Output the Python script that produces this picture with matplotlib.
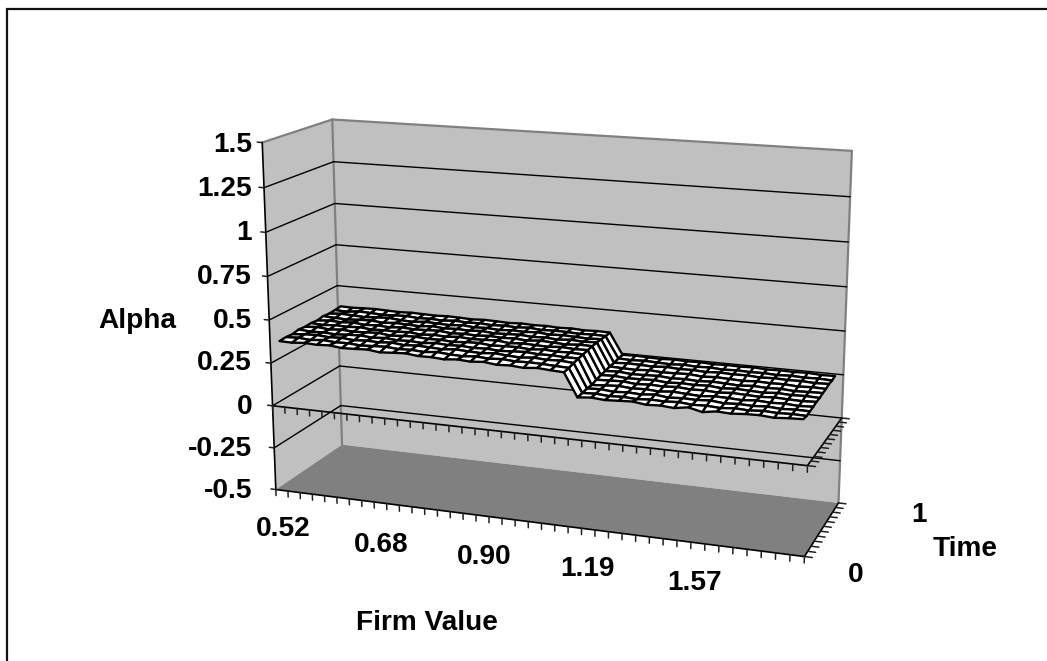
import numpy as np
import matplotlib
matplotlib.use("Agg")
import matplotlib.pyplot as plt
from matplotlib.lines import Line2D
from mpl_toolkits.mplot3d import Axes3D
from mpl_toolkits.mplot3d.art3d import Poly3DCollection, Line3DCollection

# ---- data -----------------------------------------------------------------
firm_tick_labels = ["0.52", "0.68", "0.90", "1.19", "1.57"]
time_tick_labels = ["0", "1"]
alpha_ticks = [-0.5, -0.25, 0, 0.25, 0.5, 0.75, 1, 1.25, 1.5]
alpha_tick_labels = ["-0.5", "-0.25", "0", "0.25", "0.5", "0.75", "1", "1.25", "1.5"]
n_cols = 40
n_rows = 11

alpha = [
 [.372,.370,.376,.372,.376,.368,.370,.374,.365,.370,.374,.366,.367,.362,.369,.364,.370,.361,.365,.359,.366,.361,.357,.225,.232,.226,.230,.234,.224,.228,.222,.234,.216,.228,.224,.230,.232,.226,.232,.235],
 [.375,.378,.372,.379,.373,.375,.369,.373,.376,.370,.373,.368,.375,.369,.366,.372,.367,.372,.366,.369,.367,.363,.360,.227,.231,.225,.229,.224,.230,.227,.232,.225,.228,.223,.230,.226,.232,.228,.231,.229],
 [.372,.378,.381,.375,.379,.372,.377,.374,.380,.372,.377,.374,.370,.377,.373,.370,.377,.371,.367,.374,.369,.372,.366,.230,.234,.227,.232,.228,.235,.226,.231,.229,.234,.226,.231,.228,.233,.228,.232,.231],
 [.380,.374,.377,.372,.377,.380,.374,.379,.373,.376,.371,.379,.374,.377,.372,.375,.370,.374,.378,.372,.374,.370,.371,.228,.233,.238,.232,.235,.230,.237,.232,.228,.235,.233,.229,.236,.231,.234,.229,.233],
 [.376,.382,.374,.380,.375,.378,.382,.373,.378,.381,.375,.377,.372,.378,.380,.373,.376,.378,.372,.379,.374,.376,.373,.236,.239,.242,.234,.239,.236,.241,.235,.238,.233,.239,.236,.233,.238,.235,.233,.237],
 [.379,.374,.380,.377,.382,.375,.378,.376,.381,.373,.379,.375,.381,.376,.378,.382,.373,.379,.376,.374,.380,.375,.377,.241,.244,.238,.240,.243,.236,.241,.238,.242,.235,.240,.237,.234,.240,.236,.239,.236],
 [.375,.381,.378,.383,.376,.380,.375,.382,.377,.380,.383,.375,.379,.376,.381,.377,.380,.375,.382,.378,.374,.380,.379,.243,.247,.240,.242,.245,.239,.242,.238,.243,.240,.236,.242,.238,.241,.236,.239,.241],
 [.382,.378,.375,.380,.383,.376,.382,.379,.376,.384,.377,.381,.378,.383,.376,.379,.382,.377,.380,.375,.381,.377,.381,.248,.245,.243,.249,.244,.246,.249,.242,.247,.244,.241,.246,.243,.245,.240,.244,.242],
 [.378,.384,.381,.377,.382,.386,.379,.376,.383,.380,.377,.384,.378,.381,.376,.382,.379,.384,.377,.381,.378,.375,.379,.248,.253,.251,.248,.254,.249,.251,.247,.252,.249,.251,.246,.250,.247,.249,.245,.248],
 [.381,.377,.386,.383,.379,.382,.385,.379,.382,.378,.384,.380,.383,.378,.382,.379,.384,.377,.381,.379,.376,.379,.377,.253,.250,.254,.251,.248,.253,.249,.252,.247,.251,.248,.250,.246,.250,.247,.249,.246],
 [.385,.383,.386,.388,.385,.383,.386,.384,.382,.385,.383,.380,.384,.382,.379,.383,.380,.382,.378,.381,.377,.380,.378,.253,.256,.253,.251,.255,.252,.254,.250,.253,.251,.254,.249,.252,.250,.253,.248,.250],
]

# ---- camera calibration: (column edge, row edge, alpha) -> picture pixel ---
cal_world = [(-.5, -.5, 1.5), (-.5, -.5, 0), (-.5, -.5, -.5),
             (39.5, -.5, 0), (39.5, -.5, -.5),
             (39.5, 10.5, 1.5), (39.5, 10.5, 0), (39.5, 10.5, -.5),
             (-.5, 10.5, 1.5), (-.5, 10.5, 0), (-.5, 10.5, -.5)]
cal_pixel = [(262.5, 143), (272, 405), (276, 490),
             (807, 465), (805, 557),
             (852, 151), (842, 418), (838, 503),
             (332, 119), (340, 367), (342, 444)]

W, H = 1047, 661


def fit_camera():
    rows = []
    for (X, Y, Z), (u, v) in zip(cal_world, cal_pixel):
        v = H - v
        rows.append([X, Y, Z, 1, 0, 0, 0, 0, -u*X, -u*Y, -u*Z, -u])
        rows.append([0, 0, 0, 0, X, Y, Z, 1, -v*X, -v*Y, -v*Z, -v])
    A = np.array(rows, float)
    scale = np.array([40, 11, 2, 1] * 2 + [40*1000, 11*1000, 2*1000, 1000])
    _, _, vt = np.linalg.svd(A * scale)
    P = (vt[-1] * scale).reshape(3, 4)
    return P / P[2, 3]


P = fit_camera()

plt.rcParams["font.family"] = "Liberation Sans"
plt.rcParams["font.weight"] = "bold"
fig = plt.figure(figsize=(W/100, H/100), dpi=100, facecolor="white")
# A square axes as wide as the figure, so that nothing is clipped.
ax = fig.add_axes([0, (H - W) / 2 / H, 1, W / H], projection="3d", computed_zorder=False)
ax.patch.set_alpha(0)
ax.set_axis_off()


def camera_proj():
    T = ax.transData.inverted().get_affine().get_matrix()
    view = T @ P
    return np.array([view[0], view[1], [0, 0.02, 0, 0.5], P[2]])


ax.get_proj = camera_proj

x0, x1 = -0.5, n_cols - 0.5
y0, y1 = -0.5, n_rows - 0.5
z0, z1 = alpha_ticks[0], alpha_ticks[-1]
WALL, FLOOR, EDGE = "#C0C0C0", "#808080", "#808080"


def lines(segments, color, lw, zorder):
    ax.add_collection3d(Line3DCollection(segments, colors=color, linewidths=lw,
                                         zorder=zorder, capstyle="round"))


for verts, col in [
    ([(x0, y0, z0), (x0, y1, z0), (x0, y1, z1), (x0, y0, z1)], WALL),
    ([(x0, y1, z0), (x1, y1, z0), (x1, y1, z1), (x0, y1, z1)], WALL),
    ([(x0, y0, z0), (x1, y0, z0), (x1, y1, z0), (x0, y1, z0)], FLOOR),
]:
    ax.add_collection3d(Poly3DCollection([verts], facecolor=col, edgecolor="none", zorder=1))

# wall edges
lines([[(x0, y0, z1), (x0, y1, z1)], [(x0, y1, z1), (x1, y1, z1)],
       [(x0, y1, z0), (x0, y1, z1)], [(x1, y1, z0), (x1, y1, z1)]], EDGE, 1.6, 2)

# gridlines on the two walls
grid = []
for v in alpha_ticks[1:-1]:
    grid += [[(x0, y0, v), (x0, y1, v)], [(x0, y1, v), (x1, y1, v)]]
lines(grid, "black", 1.0, 3)

# axes: alpha axis, category and depth axes on the floor and on the zero plane
axes_segs = [[(x0, y0, z0), (x0, y0, z1)]]
tick_segs = []
for v in (z0, 0):
    axes_segs += [[(x0, y0, v), (x1, y0, v)], [(x1, y0, v), (x1, y1, v)]]
    for c in np.arange(x0, x1 + 0.5):
        tick_segs.append([(c, y0, v), (c, y0, v - 0.036)])
    for r in np.arange(y0, y1 + 0.5):
        tick_segs.append([(x1, r, v), (x1 + 0.55, r, v)])
for v in alpha_ticks:
    tick_segs.append([(x0, y0, v), (x0 - 0.4, y0, v)])
lines(axes_segs, "black", 1.2, 4)
lines(tick_segs, "#202020", 1.1, 4)

# surface
X, Y = np.meshgrid(np.arange(n_cols), np.arange(n_rows))
ax.plot_surface(X, Y, np.array(alpha), rstride=1, cstride=1, color="white",
                edgecolor="black", linewidth=1.7, shade=False, zorder=6)
ax.set_xlim(x0, x1); ax.set_ylim(y0, y1); ax.set_zlim(z0, z1)


def label(px, py, s, ha="center"):
    fig.text(px / W, 1 - (py + 1.5) / H, s, ha=ha, va="center", fontsize=20.2,
             fontweight="bold", color="black")


alpha_label_y = [490, 447, 405, 361, 320, 276, 232, 187, 143]
for s, py in zip(alpha_tick_labels, alpha_label_y):
    label(252, py, s, ha="right")
firm_label_px = [(283, 528), (381, 543), (484, 556), (587, 568), (695, 582)]
for s, (px, py) in zip(firm_tick_labels, firm_label_px):
    label(px, py, s)
for s, (px, py) in zip(time_tick_labels, [(856, 573), (919, 513)]):
    label(px, py, s)
label(137, 320, "Alpha")
label(427, 622, "Firm Value")
label(965, 547, "Time")

# frame: only the top and left edges fall inside the picture
fig.add_artist(Line2D([7 / W, 7 / W, 1], [0, 1 - 8.5 / H, 1 - 8.5 / H],
                      transform=fig.transFigure, color="#111111", lw=1.6,
                      solid_joinstyle="miter"))

fig.savefig("out.png", dpi=100, facecolor="white")
